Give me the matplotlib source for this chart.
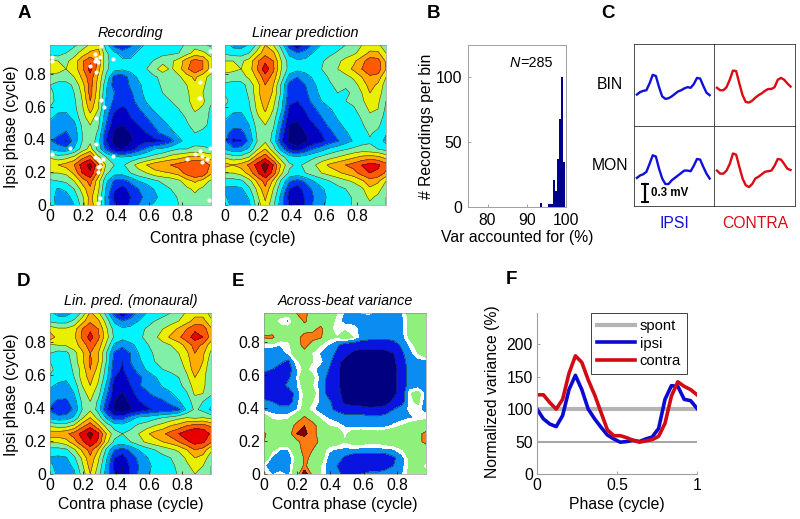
import numpy as np
import matplotlib
matplotlib.use('Agg')
import matplotlib.pyplot as plt

plt.rcParams['font.family'] = ['Liberation Sans', 'DejaVu Sans']
plt.rcParams['font.size'] = 11.3

W, H = 800, 519

# --- Data ---
# grids: rows from top (ipsi phase 0.975) to bottom (0), one band = 10 units
grid_recording = [
    [44,42,44,48,54,62,66,44,26,18,28,36,42,42,44,46,47,52,56,52,48],
    [46,44,50,56,64,72,74,52,42,36,36,42,44,45,47,48,50,56,64,62,56],
    [62,60,58,64,78,88,78,52,46,42,42,44,47,51,56,58,64,76,84,80,64],
    [66,64,60,64,78,94,74,52,44,42,44,46,50,57,66,58,66,78,88,80,66],
    [56,56,56,60,72,86,68,48,26,24,34,42,46,49,52,54,58,66,72,64,56],
    [50,46,46,52,66,84,66,42,24,20,32,38,44,48,51,51,54,60,68,62,54],
    [54,44,45,50,62,84,64,40,30,22,28,36,44,47,50,51,52,58,66,60,52],
    [56,44,44,48,60,80,62,38,28,24,26,34,41,46,49,50,52,56,68,62,52],
    [48,43,42,47,58,74,60,36,22,18,22,29,36,42,46,48,50,54,62,58,48],
    [42,37,37,43,56,66,54,33,16,14,20,24,30,36,42,45,47,51,56,54,48],
    [37,34,33,37,52,60,52,29,12,10,14,20,26,31,36,42,46,49,53,52,48],
    [35,32,29,34,50,58,48,23,8,4,10,15,20,27,32,37,43,47,50,48,46],
    [31,26,19,34,50,58,44,20,7,2,8,14,18,17,19,26,37,44,47,46,42],
    [39,35,34,41,54,64,46,27,12,8,15,24,32,40,42,46,50,50,52,52,50],
    [58,54,56,62,76,84,62,50,42,40,42,46,50,54,58,64,66,70,72,70,66],
    [70,70,74,80,94,104,82,58,50,48,56,64,70,76,80,80,84,88,90,90,78],
    [60,60,62,72,90,98,76,52,44,44,50,56,60,66,68,70,74,84,90,88,72],
    [48,50,52,60,74,84,64,42,28,26,32,40,44,48,52,54,58,66,72,66,58],
    [44,39,42,50,64,78,62,38,22,16,24,30,34,41,46,50,54,58,62,58,54],
    [44,37,36,44,58,74,58,36,16,14,20,28,32,37,45,47,51,56,58,56,52],
    [45,37,34,40,54,76,60,36,22,13,22,30,37,42,44,46,50,54,56,56,52],
]
grid_linear = [
    [46,37,36,41,52,70,60,46,24,10,24,32,41,45,47,50,54,60,64,62,54],
    [48,45,45,50,64,76,72,54,37,30,33,41,45,48,51,55,58,64,72,72,60],
    [60,60,58,64,78,88,80,60,45,42,43,46,49,53,58,63,68,76,86,84,68],
    [64,62,60,65,80,96,82,60,46,43,45,47,50,55,60,66,72,80,88,86,70],
    [56,56,56,62,72,86,76,56,36,30,35,42,47,51,54,57,62,70,78,76,60],
    [48,45,46,54,66,80,70,48,26,24,30,38,45,49,52,53,56,64,74,68,55],
    [48,42,44,52,66,80,68,48,24,22,28,36,43,47,50,46,54,60,70,66,52],
    [54,44,43,50,64,76,64,44,22,20,26,33,40,45,48,50,52,58,66,62,50],
    [48,43,42,48,62,72,60,42,18,16,21,28,34,39,44,47,49,54,62,60,48],
    [42,37,37,44,58,66,56,36,14,12,18,24,30,36,41,44,47,51,58,56,46],
    [37,34,34,40,54,60,52,31,10,8,14,19,26,32,38,42,45,49,54,52,44],
    [34,25,26,36,52,58,48,26,8,5,10,15,20,27,34,39,43,47,51,48,41],
    [31,18,19,33,50,58,46,22,7,1,8,13,17,24,29,36,41,46,49,45,37],
    [39,33,34,42,58,70,54,36,18,14,22,30,36,42,46,49,52,54,52,50,46],
    [58,54,54,60,76,86,70,54,44,42,44,48,52,56,60,64,68,72,74,72,66],
    [74,70,74,82,94,106,90,68,52,48,52,58,66,72,76,80,84,90,94,92,84],
    [60,60,64,74,88,100,86,62,48,46,50,55,60,64,68,72,76,84,90,88,78],
    [46,46,48,56,72,84,68,48,32,26,32,40,45,50,54,58,62,68,76,72,60],
    [38,37,38,48,62,78,60,42,20,15,24,32,38,45,47,50,52,58,68,64,54],
    [41,36,35,41,58,72,56,36,16,11,22,30,36,43,46,48,51,56,62,58,50],
    [44,37,33,38,54,68,52,34,18,7,22,31,38,43,45,47,51,55,58,56,50],
]
grid_monaural = [
    [43,36,36,42,52,72,62,46,24,10,24,33,40,44,47,50,54,62,66,66,56],
    [48,46,46,52,66,78,72,56,38,30,33,40,46,50,53,56,60,66,74,74,62],
    [66,62,62,66,80,88,80,62,46,42,44,47,51,55,60,65,72,80,88,86,72],
    [76,66,64,68,82,94,82,64,48,44,46,48,52,58,64,72,78,86,94,90,76],
    [58,60,61,66,74,86,76,58,38,32,37,43,49,53,57,60,65,74,84,78,64],
    [50,46,47,56,68,80,70,50,28,24,30,40,47,51,54,56,60,68,80,72,58],
    [50,42,44,55,68,82,70,50,25,20,30,38,44,50,52,54,57,65,78,70,54],
    [54,44,44,52,64,80,66,46,23,19,26,34,41,47,50,52,54,62,76,66,52],
    [48,44,42,50,64,74,62,44,20,17,22,27,34,39,44,47,50,58,70,64,50],
    [42,38,37,44,60,70,58,38,15,13,20,29,33,36,41,44,47,55,64,62,54],
    [36,35,34,40,56,64,54,33,14,9,16,24,28,33,36,39,44,49,62,60,52],
    [33,28,28,35,52,60,48,27,10,5,12,19,23,25,28,34,39,46,54,50,44],
    [28,23,23,32,50,58,46,22,8,2,9,14,18,21,23,24,28,42,52,47,38],
    [37,33,34,42,58,70,56,38,24,25,35,42,44,47,50,53,57,60,58,60,57],
    [58,56,56,62,76,86,72,56,46,44,47,52,55,60,64,70,74,80,84,84,78],
    [76,76,78,84,94,104,92,70,54,50,53,60,68,74,78,84,90,96,100,98,88],
    [62,62,66,76,88,98,88,64,48,46,50,56,62,66,70,74,80,88,94,92,82],
    [46,46,48,58,72,84,70,48,30,26,32,40,45,50,54,58,62,70,80,76,62],
    [39,38,39,48,62,78,62,42,20,15,25,32,39,45,47,50,54,62,70,66,54],
    [42,37,36,42,58,74,58,38,17,10,22,30,36,43,46,48,52,58,64,60,50],
    [45,38,33,38,54,70,54,36,20,8,22,31,38,43,45,47,51,56,60,57,50],
]
grid_variance = [
    [40,40,40,38,50,54,42,40,38,34,28,26,29,30,26,24,24,28,38,42,42],
    [40,38,30,27,40,52,44,42,38,32,26,25,27,25,24,24,24,27,36,44,44],
    [40,40,38,38,45,44,46,54,38,28,33,33,26,25,24,24,24,26,38,42,44],
    [52,54,38,38,44,56,56,52,36,34,40,34,26,24,24,23,24,26,36,42,44],
    [30,30,29,31,42,56,42,34,28,22,14,13,12,12,12,13,14,22,30,38,42],
    [27,26,26,30,40,44,33,28,25,18,12,9,8,8,8,8,10,18,26,34,42],
    [24,24,22,18,32,38,34,30,24,12,8,7,5,5,5,5,8,16,24,26,26],
    [22,20,16,14,28,36,31,26,20,11,8,6,3,3,3,3,7,14,24,25,25],
    [16,13,12,18,28,44,36,26,17,12,6,4,3,3,3,3,8,14,24,25,25],
    [13,14,17,22,28,38,34,26,15,12,6,3,3,3,3,3,8,14,24,25,25],
    [14,16,12,13,24,36,38,26,16,12,8,3,3,3,3,3,8,14,33,38,26],
    [22,20,14,14,26,36,34,27,22,14,8,7,5,3,4,6,12,14,32,36,24],
    [27,26,25,25,28,38,30,26,22,18,14,13,14,13,13,14,20,26,30,31,26],
    [40,32,31,32,42,52,42,32,28,25,24,24,24,22,22,24,25,26,28,30,32],
    [40,40,40,42,54,60,56,42,34,32,28,26,25,26,26,27,30,34,38,40,40],
    [52,44,42,44,60,62,56,42,38,40,32,40,42,40,38,40,42,44,48,46,54],
    [50,42,40,42,46,56,54,48,40,38,34,38,38,36,36,38,40,42,44,46,54],
    [40,36,29,29,44,54,50,40,30,28,27,27,26,26,26,27,28,33,40,42,40],
    [42,27,24,24,36,52,48,38,27,25,18,13,12,12,12,12,18,26,36,40,38],
    [30,24,22,24,40,52,44,34,25,20,13,12,14,14,14,16,20,26,36,40,30],
    [36,28,32,26,42,68,46,34,25,24,16,14,20,22,22,24,25,28,36,40,38],
]

dots_x = [.01,.01,.12,.01,.38,.24,.27,.28,.29,.27,.30,.28,.31,.33,.28,.28,.27,.29,.30,.32,
          .38,.30,.29,.29,.30,.29,.96,.83,.88,.91,.92,.95,.92,.97,.90,.91,.91,.97,.97,.31]
dots_y = [.90,.88,.35,.31,.89,.85,.88,.89,.87,.92,.90,.81,.64,.60,.53,.37,.29,.28,.27,.28,
          .30,.24,.23,.20,.04,.01,.03,.28,.31,.33,.30,.28,.26,.35,.65,.65,.75,.82,.94,.97]

hist_left = [93.3, 95.3, 95.8, 96.3, 96.8, 97.3, 97.8, 98.3, 98.8, 99.3]
hist_count = [3, 2, 2, 2, 21, 12, 37, 68, 100, 35]

trace_phase = np.arange(24) / 23
ipsi_bin = [-.10,-.06,-.04,-.03,.08,.22,.20,.02,-.13,-.17,-.16,-.13,-.09,-.05,-.03,0,.02,.01,.07,.17,.16,.04,-.07,-.11]
ipsi_mon = [-.15,-.11,-.09,-.05,.08,.22,.20,0,-.16,-.25,-.25,-.19,-.15,-.11,-.07,-.03,-.03,-.04,.05,.16,.15,.03,-.08,-.16]
contra_bin = [.01,-.03,-.03,.02,.14,.29,.28,.08,-.11,-.22,-.23,-.20,-.15,-.11,-.08,-.04,-.01,-.01,.02,.14,.17,.14,.08,.03]
contra_mon = [-.03,-.08,-.08,-.03,.08,.25,.23,.03,-.16,-.27,-.30,-.25,-.16,-.13,-.09,-.05,-.04,-.03,.05,.16,.15,.08,0,-.02]

var_phase = [0,.04,.08,.12,.16,.20,.24,.28,.32,.36,.40,.44,.48,.52,.56,.60,.64,.68,.72,.76,.80,.84,.88,.92,.96,1]
var_ipsi = [100,85,77,73,90,130,152,130,100,85,72,60,54,49,50,52,50,54,57,70,115,136,135,115,113,101]
var_contra = [122,122,110,100,115,155,182,172,145,122,95,68,59,59,56,52,49,51,53,58,78,120,142,135,130,122]

# --- Styles ---
phase_grid = np.linspace(0, 0.975, 21)
band_colors = ['#000080', '#0000c4', '#0030f0', '#0096f8', '#00f4ff', '#80f0a8',
               '#e8f000', '#ffac00', '#ff5a00', '#e80000', '#7c0000']
band_levels = np.arange(0, 120, 10)
var_colors = ['#000080', '#0a14e0', '#0a8cf0', '#ffffff', '#90f07c', '#ff7a10', '#7c0000']
var_levels = [0, 10, 20, 29, 34, 50, 60, 110]
phase_ticks = [0, .2, .4, .6, .8]
phase_labels = ['0', '0.2', '0.4', '0.6', '0.8']
C_BLUE = '#1010d8'
C_RED = '#dc0a14'


def px_axes(x0, y0, x1, y1):
    # pixel box (y from the top) to a figure axes
    ax = fig.add_axes([x0 / W, 1 - y1 / H, (x1 - x0) / W, (y1 - y0) / H])
    ax.box_px = (x0, y0, x1, y1)
    return ax


def label_px(ax, xlabel=None, ylabel=None, xlabel_at=(0, 0), ylabel_at=(0, 0)):
    # put axis labels at a pixel position (centre of the text)
    x0, y0, x1, y1 = ax.box_px
    if xlabel:
        ax.set_xlabel(xlabel)
        ax.xaxis.set_label_coords((xlabel_at[0] - x0) / (x1 - x0), (y1 - xlabel_at[1]) / (y1 - y0))
        ax.xaxis.label.set_verticalalignment('center')
    if ylabel:
        ax.set_ylabel(ylabel)
        ax.yaxis.set_label_coords((ylabel_at[0] - x0) / (x1 - x0), (y1 - ylabel_at[1]) / (y1 - y0))
        ax.yaxis.label.set_verticalalignment('center')


def phase_map(ax, rows, levels, colors, line_levels, title, ylabels=True):
    z = np.array(rows, dtype=float)[::-1]
    ax.contourf(phase_grid, phase_grid, z, levels=levels, colors=colors)
    ax.contour(phase_grid, phase_grid, z, levels=line_levels, colors='#202020', linewidths=0.35)
    ax.set_xlim(0, 0.975)
    ax.set_ylim(0, 0.975)
    ax.set_xticks(phase_ticks, phase_labels)
    ax.set_yticks(phase_ticks, phase_labels if ylabels else [])
    ax.tick_params(length=2, width=0.5, direction='in', pad=3)
    for spine in ax.spines.values():
        spine.set_linewidth(0.4)
        spine.set_color('#808080')
    ax.set_title(title, fontsize=10.4, style='italic', pad=6)


fig = plt.figure(figsize=(W / 100, H / 100), dpi=100)

# --- A ---
ax = px_axes(50, 45, 211, 205)
phase_map(ax, grid_recording, band_levels, band_colors, band_levels, 'Recording')
ax.scatter(dots_x, dots_y, s=9, c='white', linewidths=0, zorder=5, clip_on=True)
label_px(ax, xlabel='Contra phase (cycle)', xlabel_at=(223, 238),
         ylabel='Ipsi phase (cycle)', ylabel_at=(12, 127))

ax = px_axes(225, 45, 386, 205)
phase_map(ax, grid_linear, band_levels, band_colors, band_levels, 'Linear prediction', ylabels=False)

# --- B ---
ax = px_axes(468, 45, 566, 207)
ax.bar(hist_left, hist_count, width=0.5, align='edge', color='#00008c')
ax.set_xlim(75, 100)
ax.set_ylim(0, 125)
ax.set_xticks([80, 90, 100])
ax.set_yticks([0, 50, 100])
ax.tick_params(length=2, width=0.5, direction='in', pad=4, color='#808080')
for spine in ax.spines.values():
    spine.set_linewidth(0.7)
    spine.set_color('#a0a0a0')
ax.text(88.3, 111, 'N', style='italic', ha='right', va='center', fontsize=10.4)
ax.text(88.3, 111, '=285', ha='left', va='center', fontsize=10.4)
label_px(ax, xlabel='Var accounted for (%)', xlabel_at=(517, 237),
         ylabel='# Recordings per bin', ylabel_at=(426, 126))

# --- C ---
cells = [(634, 44, 714, 126, ipsi_bin, C_BLUE, 0.72, 0.61),
         (714, 44, 795, 126, contra_bin, C_RED, 0.72, 0.61),
         (634, 126, 714, 206, ipsi_mon, C_BLUE, 0.70, 0.61),
         (714, 126, 795, 206, contra_mon, C_RED, 0.70, 0.61)]
for x0, y0, x1, y1, trace, color, up, down in cells:
    ax = px_axes(x0, y0, x1, y1)
    ax.plot(trace_phase, trace, color=color, lw=1.7)
    ax.set_xlim(-0.04, 1.06)
    ax.set_ylim(-down, up)
    ax.set_xticks([])
    ax.set_yticks([])
    for spine in ax.spines.values():
        spine.set_linewidth(0.6)
        spine.set_color('#303030')
    if trace is ipsi_mon:
        # 0.3 mV scale bar
        ax.plot([0.11, 0.11], [-0.55, -0.25], color='k', lw=1.6)
        ax.plot([0.07, 0.15], [-0.55, -0.55], color='k', lw=1.4)
        ax.plot([0.07, 0.15], [-0.25, -0.25], color='k', lw=1.4)
        ax.text(0.19, -0.40, '0.3 mV', fontsize=8.3, fontweight='bold', va='center')

fig.text(610 / W, 1 - 85 / H, 'BIN', ha='center', va='center')
fig.text(610 / W, 1 - 166 / H, 'MON', ha='center', va='center')
fig.text(674 / W, 1 - 223 / H, 'IPSI', color=C_BLUE, ha='center', va='center')
fig.text(755 / W, 1 - 223 / H, 'CONTRA', color=C_RED, ha='center', va='center')

# --- D ---
ax = px_axes(50, 313, 211, 474)
phase_map(ax, grid_monaural, band_levels, band_colors, band_levels, 'Lin. pred. (monaural)')
label_px(ax, xlabel='Contra phase (cycle)', xlabel_at=(131, 504),
         ylabel='Ipsi phase (cycle)', ylabel_at=(12, 395))

# --- E ---
ax = px_axes(264, 313, 426, 474)
phase_map(ax, grid_variance, var_levels, var_colors, [10, 20, 50, 60], 'Across-beat variance')
label_px(ax, xlabel='Contra phase (cycle)', xlabel_at=(345, 504))

# --- F ---
ax = px_axes(537, 313, 697, 474)
ax.axhline(100, color='#b4b4b4', lw=3, label='spont')
ax.axhline(50, color='#a8a8a8', lw=1.5)
ax.plot(var_phase, var_ipsi, color='#0a0ad2', lw=2.6, label='ipsi')
ax.plot(var_phase, var_contra, color='#d20a14', lw=2.6, label='contra')
ax.set_xlim(0, 1)
ax.set_ylim(0, 248)
ax.set_xticks([0, .5, 1], ['0', '0.5', '1'])
ax.set_yticks([0, 50, 100, 150, 200])
ax.tick_params(length=2, width=0.5, direction='in', pad=3, color='#808080')
ax.spines['top'].set_visible(False)
ax.spines['right'].set_visible(False)
ax.spines['left'].set_color('#a0a0a0')
ax.spines['bottom'].set_color('#a0a0a0')
label_px(ax, xlabel='Phase (cycle)', xlabel_at=(617, 504),
         ylabel='Normalized variance (%)', ylabel_at=(492, 392))
leg = ax.legend(loc='upper right', bbox_to_anchor=(0.9375, 1.0), fontsize=10.6, fancybox=False,
                framealpha=1, edgecolor='#404040', borderpad=0.4, labelspacing=0.25,
                handlelength=2.6, handletextpad=0.3, borderaxespad=0)
leg.get_frame().set_linewidth(0.7)

# --- Panel letters ---
for letter, px, py in [('A', 24, 14), ('B', 433, 14), ('C', 608, 13),
                       ('D', 24, 281), ('E', 238, 281), ('F', 511, 280)]:
    fig.text(px / W, 1 - py / H, letter, fontsize=13.5, fontweight='bold', ha='center', va='center')

fig.savefig('out.png', dpi=100)
